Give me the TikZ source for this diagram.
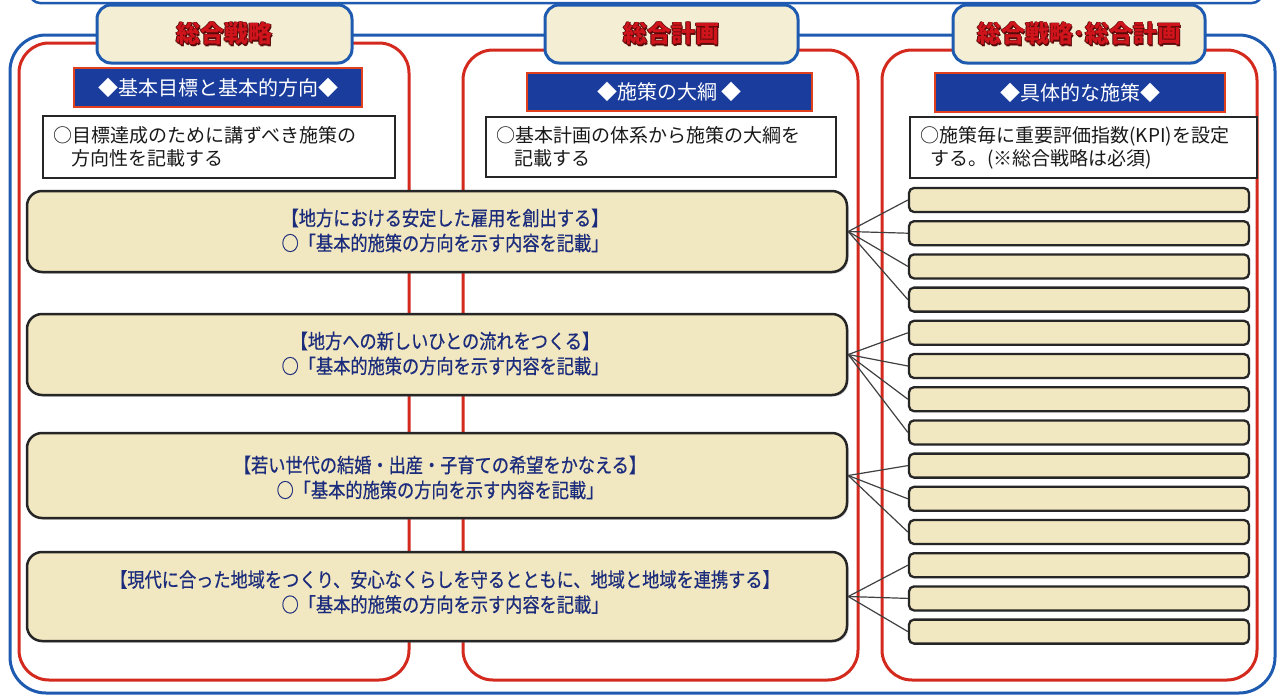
\documentclass[tikz,border=0pt]{standalone}
\usepackage{fontspec}
\setmainfont{Noto Sans CJK JP}
\newfontfamily\condjp[FakeStretch=0.86, FakeBold=0.6]{Noto Sans CJK JP}
\usetikzlibrary{shadows}
\definecolor{bluel}{HTML}{1E5BB0}
\definecolor{redl}{HTML}{D42A1E}
\definecolor{barblue}{HTML}{1A3C9C}
\definecolor{barred}{HTML}{E0401E}
\definecolor{tabfill}{HTML}{F4EED4}
\definecolor{beige}{HTML}{F1E7C0}
\definecolor{navy}{HTML}{1C2C7C}
\definecolor{tred}{HTML}{D0141C}
\definecolor{tdark}{HTML}{5A0A0A}
\newcommand\ttlout[1]{{%
  \rlap{\kern1.3pt\raisebox{-1.3pt}{\textcolor{tdark}{#1}}}%
  \rlap{\kern-0.6pt\textcolor{tdark}{#1}}%
  \rlap{\kern0.6pt\textcolor{tdark}{#1}}%
  \rlap{\raisebox{0.6pt}{\textcolor{tdark}{#1}}}%
  \rlap{\raisebox{-0.6pt}{\textcolor{tdark}{#1}}}%
  \textcolor{tred}{#1}}}
\tikzset{
  colbox/.style={draw=redl, line width=3pt, rounded corners=30pt},
  tabbox/.style={draw=bluel, fill=tabfill, line width=3pt, rounded corners=14pt, inner sep=0pt},
  barbox/.style={draw=barred, fill=barblue, line width=2.5pt, inner sep=0pt},
  notebox/.style={draw=black!85, fill=white, line width=1.3pt, inner sep=0pt},
  bigbox/.style={draw=black!85, fill=beige, line width=2.5pt, rounded corners=15pt, inner sep=0pt,
    minimum width=820pt, drop shadow={shadow xshift=1.5pt, shadow yshift=-1.5pt, opacity=0.35}},
  smallbox/.style={draw=black!85, fill=beige, line width=2.3pt, rounded corners=5pt, inner sep=0pt,
    minimum width=340pt, minimum height=24pt, drop shadow={shadow xshift=1pt, shadow yshift=-1pt, opacity=0.35}},
  titletext/.style={font=\fontsize{24}{28}\selectfont\bfseries, inner sep=0pt},
  bartext/.style={text=white, font=\fontsize{20}{24}\selectfont, inner sep=0pt},
  notetext/.style={text=black!90, font=\fontsize{19}{23}\selectfont, align=left, inner sep=0pt, anchor=west},
  bigtext/.style={text=navy, font=\condjp\fontsize{20}{25}\selectfont, align=center, inner sep=0pt},
  fan/.style={draw=black!75, line width=1.2pt},
}
\begin{document}
\begin{tikzpicture}[x=1pt, y=-1pt]
\useasboundingbox (0,0) rectangle (1278,697);
% partial box at the very top
\begin{scope}
\clip (0,0) rectangle (1278,697);
\draw[bluel, line width=2.5pt, rounded corners=10pt] (30,-40) rectangle (1262,3);
\end{scope}
% outer blue frame
\draw[bluel, line width=3pt, rounded corners=36pt] (10,35) rectangle (1275,693);
% red columns
\draw[colbox] (19,43) rectangle (409,680);
\draw[colbox] (463,50) rectangle (858,680);
\draw[colbox] (882,50) rectangle (1257,680);
% tabs
\node[tabbox, minimum width=255pt, minimum height=58pt] (tab1) at (224.5,34) {};
\node[tabbox, minimum width=253pt, minimum height=58pt] (tab2) at (671.5,34) {};
\node[tabbox, minimum width=252pt, minimum height=58pt] (tab3) at (1079,34) {};
\node[titletext] (tt1) at (tab1.center) {\ttlout{総合戦略}};
\node[titletext] (tt2) at (tab2.center) {\ttlout{総合計画}};
\node[titletext] (tt3) at (tab3.center) {\ttlout{総合戦略･総合計画}};
% blue bars
\node[barbox, minimum width=288pt, minimum height=39pt] (bar1) at (218,87.5) {};
\node[barbox, minimum width=285pt, minimum height=38pt] (bar2) at (669.5,92) {};
\node[barbox, minimum width=290pt, minimum height=39pt] (bar3) at (1080,92.5) {};
\node[bartext] (bt1) at (bar1.center) {◆基本目標と基本的方向◆};
\node[bartext] (bt2) at (bar2.center) {◆施策の大綱 ◆};
\node[bartext] (bt3) at (bar3.center) {◆具体的な施策◆};
% note boxes
\node[notebox, minimum width=352pt, minimum height=62pt] (n1) at (219,147) {};
\node[notebox, minimum width=350pt, minimum height=60pt] (n2) at (661,147) {};
\node[notebox, minimum width=347pt, minimum height=61pt] (n3) at (1083.5,147.5) {};
\node[notetext] (nt1) at ([xshift=11pt]n1.west) {○目標達成のために講ずべき施策の\\\hspace*{0.95em}方向性を記載する};
\node[notetext] (nt2) at ([xshift=11pt]n2.west) {○基本計画の体系から施策の大綱を\\\hspace*{0.95em}記載する};
\node[notetext] (nt3) at ([xshift=11pt]n3.west) {○施策毎に重要評価指数(KPI)を設定\\\hspace*{0.5em}する。(※総合戦略は必須)};
% small boxes
\foreach \k in {1,...,14} {
  \node[smallbox] (s\k) at (1079,{200+33.2*(\k-1)}) {};
}
% big boxes
\node[bigbox, minimum height=81pt] (A) at (437,231.5) {};
\node[bigbox, minimum height=81pt] (B) at (437,354.5) {};
\node[bigbox, minimum height=85pt] (C) at (437,475.5) {};
\node[bigbox, minimum height=89pt] (D) at (437,596.5) {};
\node[bigtext] (tA) at (445,230.5) {【地方における安定した雇用を創出する】\\○「基本的施策の方向を示す内容を記載」};
\node[bigtext] (tB) at (445,353.5) {【地方への新しいひとの流れをつくる】\\○「基本的施策の方向を示す内容を記載」};
\node[bigtext] (tC) at (440,477.5) {【若い世代の結婚・出産・子育ての希望をかなえる】\\○「基本的施策の方向を示す内容を記載」};
\node[bigtext] (tD) at (445,592) {【現代に合った地域をつくり、安心なくらしを守るとともに、地域と地域を連携する】\\○「基本的施策の方向を示す内容を記載」};
% connectors
\foreach \k in {1,2,3,4} { \draw[fan] (A.east) -- (s\k.west); }
\foreach \k in {5,6,7,8} { \draw[fan] (B.east) -- (s\k.west); }
\foreach \k in {9,10,11} { \draw[fan] (C.east) -- (s\k.west); }
\foreach \k in {12,13,14} { \draw[fan] (D.east) -- (s\k.west); }
\end{tikzpicture}
\end{document}
